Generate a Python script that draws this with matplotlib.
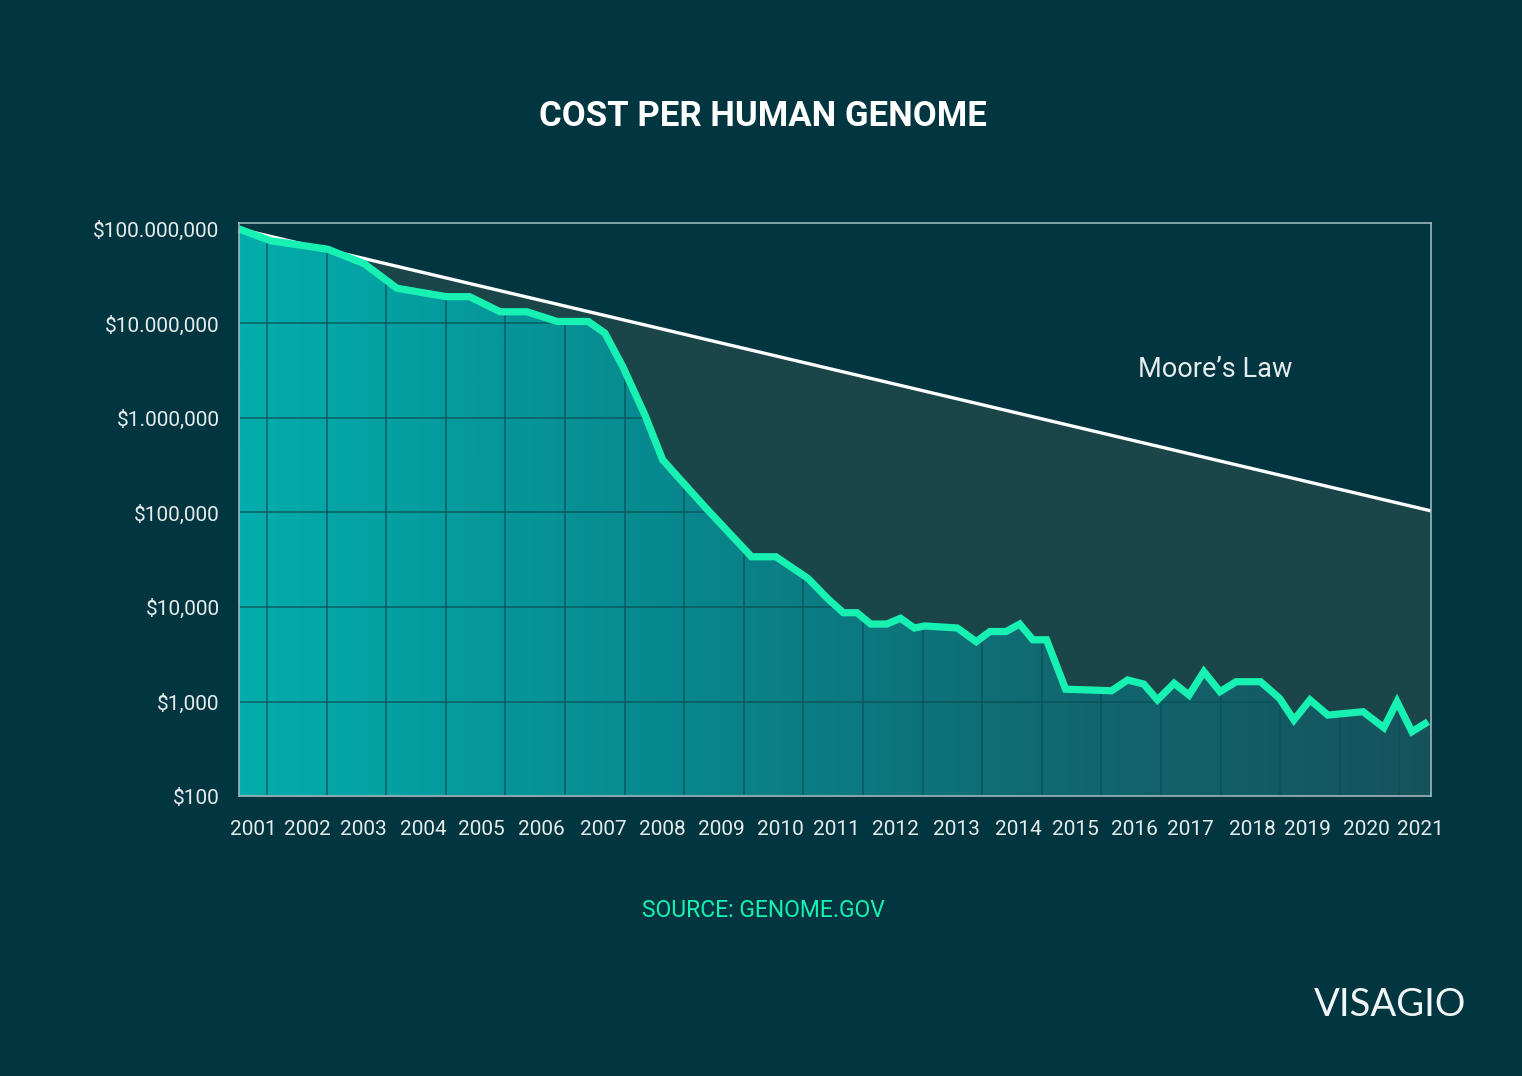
import numpy as np
import matplotlib
matplotlib.use("Agg")
import matplotlib.pyplot as plt
from matplotlib.patches import Polygon
from matplotlib.colors import LinearSegmentedColormap

# data (fractional year, USD per genome)
years = [2001.53, 2002.06, 2003.02, 2003.63, 2004.18, 2005.01, 2005.40, 2005.91,
         2006.36, 2006.87, 2007.39, 2007.67, 2007.97, 2008.34, 2008.64, 2009.35,
         2010.13, 2010.54, 2011.08, 2011.40, 2011.67, 2011.90, 2012.13, 2012.40,
         2012.63, 2012.86, 2013.04, 2013.58, 2013.90, 2014.13, 2014.40, 2014.63,
         2014.85, 2015.08, 2015.40, 2016.17, 2016.44, 2016.71, 2016.94, 2017.22,
         2017.47, 2017.72, 2017.99, 2018.26, 2018.67, 2018.99, 2019.23, 2019.50,
         2019.80, 2020.39, 2020.74, 2020.96, 2021.21, 2021.48]
cost = [1.0e8, 7.5e7, 6.1e7, 4.3e7, 2.36e7, 1.92e7, 1.92e7, 1.33e7,
        1.33e7, 1.05e7, 1.05e7, 7.9e6, 3.5e6, 1.08e6, 3.6e5, 1.14e5,
        3.4e4, 3.4e4, 2.0e4, 1.24e4, 8.7e3, 8.7e3, 6.6e3, 6.6e3,
        7.6e3, 6.0e3, 6.3e3, 6.0e3, 4.3e3, 5.5e3, 5.5e3, 6.6e3,
        4.5e3, 4.5e3, 1.35e3, 1.30e3, 1.69e3, 1.53e3, 1.04e3, 1.56e3,
        1.17e3, 2.07e3, 1.27e3, 1.62e3, 1.62e3, 1.08e3, 637, 1.04e3,
        719, 780, 528, 995, 479, 611]

moore_years = [2001.53, 2021.53]
moore_cost = [1.0e8, 1.04e5]

year_labels = [str(y) for y in range(2001, 2022)]
ytick_vals = [1e2, 1e3, 1e4, 1e5, 1e6, 1e7, 1e8]
ytick_labels = ["$100", "$1,000", "$10,000", "$100,000", "$1.000,000",
                "$10.000,000", "$100.000,000"]

# colours
BG = "#013640"
DARK_FILL = "#1a4549"
GREEN = "#17f2b2"
FRAME = "#9db7bb"
TXT = "#e6ecec"

plt.rcParams['font.family'] = ['Roboto', 'DejaVu Sans']

fig = plt.figure(figsize=(15.22, 10.76), dpi=100, facecolor=BG)
ax = fig.add_axes([0.157, 0.2602, 0.7832, 0.5326])
ax.set_facecolor(BG)
ax.set_yscale("log")
x0, x1 = 2001.53, 2021.53
y0, y1 = 100, 10 ** 8.0635
ax.set_xlim(x0, x1)
ax.set_ylim(y0, y1)

# dark area below Moore's law line
dark = Polygon([(moore_years[0], moore_cost[0]), (moore_years[1], moore_cost[1]),
                (x1, y0), (x0, y0)], closed=True, facecolor=DARK_FILL,
               edgecolor="none", zorder=1, transform=ax.transData)
ax.add_patch(dark)

# teal gradient under the genome cost curve
verts = [(years[0], y0)] + list(zip(years, cost)) + [(x1, cost[-1]), (x1, y0)]
clip = Polygon(verts, closed=True, facecolor="none", edgecolor="none",
               transform=ax.transData)
ax.add_patch(clip)
cmap = LinearSegmentedColormap.from_list("teal", ["#03adad", "#078b90", "#106a72", "#16525c"])
grad = np.linspace(0, 1, 512).reshape(1, -1)
im = ax.imshow(grad, cmap=cmap, extent=[x0, x1, y0, y1], aspect="auto",
               origin="lower", zorder=2, interpolation="bilinear")
im.set_clip_path(clip)

# grid only inside the teal area
vl = ax.vlines(np.arange(2002, 2022), y0, y1, colors="#0a4f56", linewidth=1.2,
               alpha=0.75, zorder=3)
vl.set_clip_path(clip)
hl = ax.hlines(ytick_vals[1:], x0, x1, colors="#0a4f56", linewidth=1.2,
               alpha=0.75, zorder=3)
hl.set_clip_path(clip)

ax.plot(moore_years, moore_cost, color="white", lw=2.4, zorder=4,
        solid_capstyle="butt")
ax.plot(years, cost, color=GREEN, lw=5.2, zorder=5, solid_joinstyle="miter",
        solid_capstyle="butt", clip_on=False)

for s in ax.spines.values():
    s.set_color(FRAME)
    s.set_linewidth(1.2)
    s.set_zorder(6)

ax.set_yticks(ytick_vals)
ax.set_yticklabels(ytick_labels)
ax.minorticks_off()
# year labels sit roughly mid-year, as in the original layout
xtick_pos = [2001.78, 2002.67, 2003.61, 2004.62, 2005.59, 2006.60, 2007.64,
             2008.64, 2009.62, 2010.61, 2011.55, 2012.55, 2013.56, 2014.60,
             2015.57, 2016.55, 2017.50, 2018.54, 2019.45, 2020.44, 2021.35]
ax.set_xticks(xtick_pos)
ax.set_xticklabels(year_labels)
ax.tick_params(axis="both", length=0, colors=TXT, labelsize=15)
ax.tick_params(axis="y", pad=14)
ax.tick_params(axis="x", pad=17)

ax.text(2017.91, 10 ** 6.51, "Moore\u2019s Law", color=TXT, fontsize=19.5,
        ha="center", va="center", zorder=7)

fig.text(0.5013, 0.892, "COST PER HUMAN GENOME", color="white", fontsize=25,
         fontweight="bold", ha="center", va="center")
fig.text(0.5013, 0.154, "SOURCE: GENOME.GOV", color=GREEN, fontsize=16.5,
         ha="center", va="center")
fig.text(0.913, 0.066, "VISAGIO", color="#f2f5f5", fontsize=27.5,
         ha="center", va="center", family=["Lato", "DejaVu Sans"])

fig.savefig("out.png", dpi=100, facecolor=BG)
